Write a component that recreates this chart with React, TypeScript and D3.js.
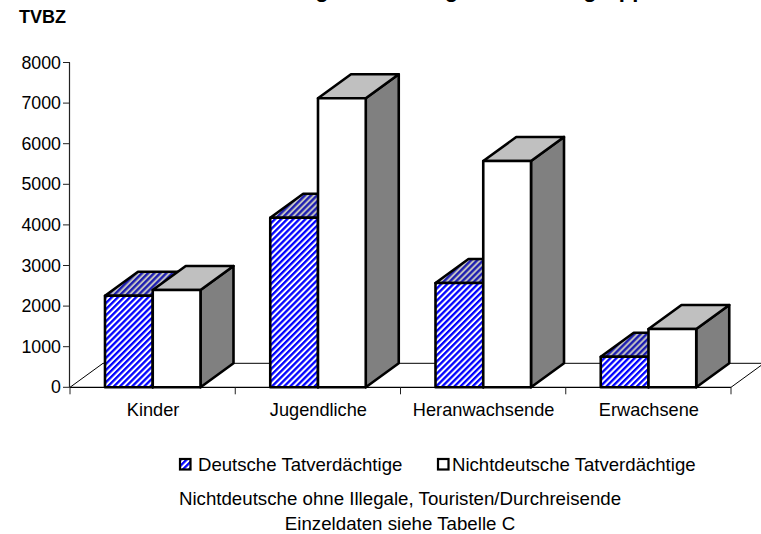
import React from "react";
import * as d3 from "d3";

const categories = ["Kinder", "Jugendliche", "Heranwachsende", "Erwachsene"];
const seriesNames = ["Deutsche Tatverdächtige", "Nichtdeutsche Tatverdächtige"];
const deutsche = [2256, 4177, 2569, 754];
const nichtdeutsche = [2396, 7118, 5574, 1436];
const yTicks = [0, 1000, 2000, 3000, 4000, 5000, 6000, 7000, 8000];
const titleText = "Tatverdächtigenbelastung nach Altersgruppen";
const yLabel = "TVBZ";
const footer = ["Nichtdeutsche ohne Illegale, Touristen/Durchreisende", "Einzeldaten siehe Tabelle C"];

const font = "'Liberation Sans', Arial, sans-serif";
const DX = 33, DY = -24;

function Bar({ x, w, y0, y1, front, top, side }: any) {
  const top3 = `M${x},${y1}L${x + DX},${y1 + DY}L${x + w + DX},${y1 + DY}L${x + w},${y1}Z`;
  const side3 = `M${x + w},${y1}L${x + w + DX},${y1 + DY}L${x + w + DX},${y0 + DY}L${x + w},${y0}Z`;
  const sw = { stroke: "#000", strokeWidth: 2.6, strokeLinejoin: "round" as const };
  return (
    <g>
      <path d={side3} fill={side} {...sw} />
      <path d={top3} fill={top} {...sw} />
      <rect x={x} y={y1} width={w} height={y0 - y1} fill={front} {...sw} />
    </g>
  );
}

export default function App() {
  const y = d3.scaleLinear().domain([0, 8000]).range([387.3, 62.5]);
  const xCat = d3.scaleBand<string>().domain(categories).range([70, 731]);
  const inner = d3.scaleBand<string>().domain(seriesNames).range([35, 130.5]);
  const w = inner.bandwidth();
  const y0 = y(0);
  const series = [
    { name: seriesNames[0], values: deutsche, front: "url(#h1)", top: "url(#h2)", side: "url(#h3)" },
    { name: seriesNames[1], values: nichtdeutsche, front: "#fff", top: "#c0c0c0", side: "#808080" },
  ];
  return (
    <svg width={761} height={534} style={{ position: "absolute", left: 0, top: 0, background: "#fff" }} fontFamily={font}>
      <defs>
        <pattern id="h1" width={4.3} height={4.3} patternUnits="userSpaceOnUse" patternTransform="rotate(45)">
          <rect width={4.3} height={4.3} fill="#fff" />
          <rect width={2.3} height={4.3} fill="#0000ff" />
        </pattern>
        <pattern id="h2" width={4.3} height={4.3} patternUnits="userSpaceOnUse" patternTransform="rotate(45)">
          <rect width={4.3} height={4.3} fill="#c0c0c0" />
          <rect width={2.3} height={4.3} fill="#1a1ab0" />
        </pattern>
        <pattern id="h3" width={4.3} height={4.3} patternUnits="userSpaceOnUse" patternTransform="rotate(45)">
          <rect width={4.3} height={4.3} fill="#808080" />
          <rect width={2.3} height={4.3} fill="#000080" />
        </pattern>
      </defs>

      <text x={186} y={-2.6} fontSize={22} fontWeight="bold" fill="#000">{titleText}</text>
      <text x={19} y={23} fontSize={18} fontWeight="bold" fill="#000">{yLabel}</text>

      {/* floor */}
      <path
        d={`M70,${y0}L${70 + DX},${y0 + DY}L${731 + DX},${y0 + DY}L731,${y0}`}
        fill="#fff" stroke="#000" strokeWidth={1}
      />
      <line x1={70} x2={731} y1={y0} y2={y0} stroke="#000" strokeWidth={1.2} />

      {/* y axis */}
      <line x1={69.5} x2={69.5} y1={y(8000)} y2={y0} stroke="#222" strokeWidth={1.2} />
      {yTicks.map((t) => (
        <g key={t}>
          <line x1={63} x2={70} y1={y(t)} y2={y(t)} stroke="#222" strokeWidth={1} />
          <text x={61} y={y(t) + 6} textAnchor="end" fontSize={17.8} fill="#000">{t}</text>
        </g>
      ))}

      {/* x axis ticks */}
      {[...categories.map((c) => xCat(c)!), 731].map((t) => (
        <line key={t} x1={t} x2={t} y1={y0} y2={y0 + 7} stroke="#222" strokeWidth={1} />
      ))}

      {/* bars */}
      {categories.map((c, i) =>
        series.map((s) => (
          <Bar
            key={c + s.name}
            x={xCat(c)! + inner(s.name)!}
            w={w}
            y0={y0}
            y1={y(s.values[i])}
            front={s.front}
            top={s.top}
            side={s.side}
          />
        ))
      )}

      {categories.map((c) => (
        <text key={c} x={xCat(c)! + xCat.bandwidth() / 2 + 0.5} y={416} textAnchor="middle" fontSize={18.2} fill="#000">{c}</text>
      ))}

      {/* legend */}
      <rect x={180} y={459} width={10.5} height={10.5} fill="url(#h1)" stroke="#000" strokeWidth={2.2} />
      <text x={198} y={471} fontSize={18.6} fill="#000">{seriesNames[0]}</text>
      <rect x={438} y={459} width={10.5} height={10.5} fill="#fff" stroke="#000" strokeWidth={2.2} />
      <text x={452} y={471} fontSize={18.6} fill="#000">{seriesNames[1]}</text>

      {footer.map((l, i) => (
        <text key={l} x={400} y={505 + i * 24.5} textAnchor="middle" fontSize={18.7} fill="#000">{l}</text>
      ))}
    </svg>
  );
}
